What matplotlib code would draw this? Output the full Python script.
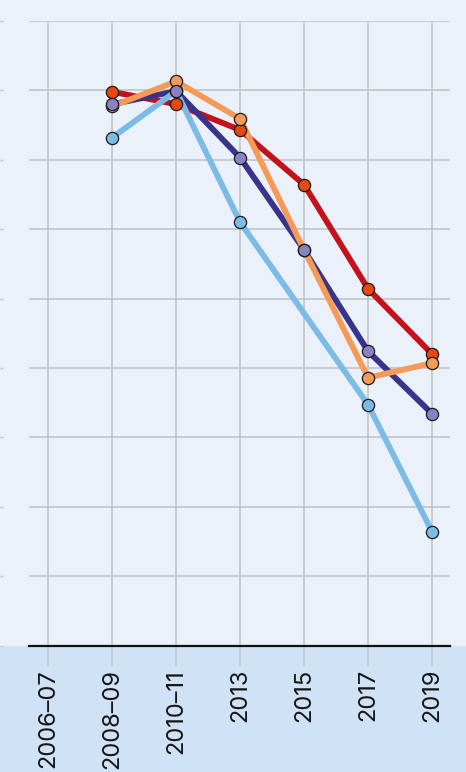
import numpy as np
import matplotlib
matplotlib.use('Agg')
import matplotlib.pyplot as plt
from matplotlib.patches import Rectangle

# Data (arbitrary units: one gridline = 10)
periods = ['2006–07', '2008–09', '2010–11', '2013', '2015', '2017', '2019']
red_vals = [np.nan, 79.8, 78.0, 74.3, 66.4, 51.4, 42.0]
navy_vals = [np.nan, 78.0, 79.9, 70.3, 57.0, 42.4, 33.4]
orange_vals = [np.nan, 77.7, 81.3, 75.9, 57.0, 38.6, 40.7]
sky_vals = [np.nan, 73.2, 79.9, 61.0, np.nan, 34.7, 16.4]

y_ticks = [0, 10, 20, 30, 40, 50, 60, 70, 80, 90]

# Series styles: (values, line colour, marker colour)
series = [
    (red_vals, '#c4121a', '#e8480f'),
    (navy_vals, '#39338c', '#8a82c0'),
    (orange_vals, '#f59b57', '#f59b57'),
    (sky_vals, '#7bbbe6', '#7bbbe6'),
]
marker_order = [3, 0, 2, 1]

plt.rcParams['font.family'] = ['Inter', 'DejaVu Sans']

bg = '#eaf1fa'
band = '#d0e2f5'
grid_c = '#c3c4c7'

fig = plt.figure(figsize=(4.66, 7.72), dpi=100, facecolor=bg)
# darker band behind the x labels
fig.patches.append(Rectangle((0, 0), 1, 126.5 / 772, transform=fig.transFigure,
                             facecolor=band, edgecolor='none', zorder=-1))

ax = fig.add_axes([29 / 466, 126.5 / 772, 421 / 466, 624.5 / 772])
ax.set_facecolor(bg)

x = np.arange(len(periods))

# lines first, then markers on top
for vals, lc, mc in series:
    v = np.array(vals, dtype=float)
    m = ~np.isnan(v)
    ax.plot(x[m], v[m], color=lc, lw=4.2, solid_capstyle='butt',
            solid_joinstyle='round', zorder=3)

for i in marker_order:
    vals, lc, mc = series[i]
    v = np.array(vals, dtype=float)
    m = ~np.isnan(v)
    ax.plot(x[m], v[m], ls='none', marker='o', ms=8.8, mfc=mc,
            mec='#1a1a1a', mew=0.9, zorder=4)

ax.set_xlim(-0.3, 6.28)
ax.set_ylim(0, 90)
ax.set_xticks(x)
ax.set_xticklabels(periods, rotation=90, fontsize=17, color='#151515')
ax.set_yticks(y_ticks)
ax.set_yticklabels([])

ax.grid(True, color=grid_c, lw=1.2)
ax.set_axisbelow(True)

for s in ['top', 'right']:
    ax.spines[s].set_visible(False)
ax.spines['left'].set_position(('outward', 26 * 72 / 100))
ax.spines['left'].set_visible(False)
ax.spines['bottom'].set_color('#111111')
ax.spines['bottom'].set_linewidth(1.6)
ax.spines['bottom'].set_zorder(5)

ax.tick_params(axis='x', length=14.4, width=1.2, color=grid_c, pad=2.5)
ax.tick_params(axis='y', length=2.2, width=1.0, color=grid_c, direction='out')
ax.yaxis.get_major_ticks()[0].tick1line.set_color('#111111')

fig.savefig('out.png', dpi=100, facecolor=bg)
